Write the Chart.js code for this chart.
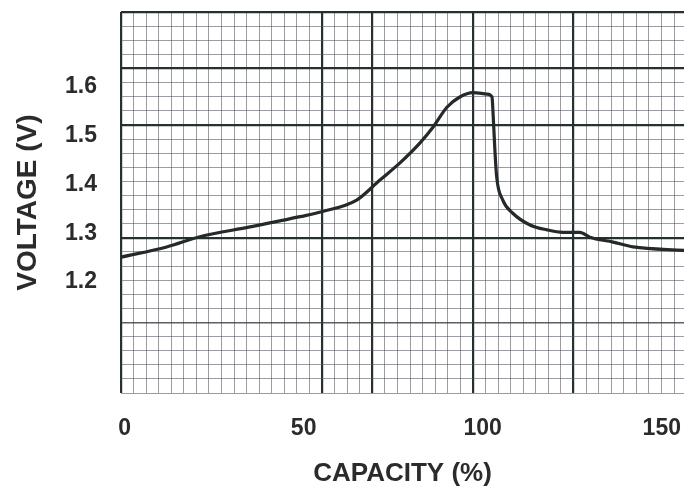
<!DOCTYPE html>
<html>
<head>
<meta charset="utf-8">
<script src="https://cdn.jsdelivr.net/npm/chart.js@4"></script>
<style>
  html, body { margin: 0; padding: 0; background: #fff; }
  #wrap { width: 684px; height: 487px; }
</style>
</head>
<body>
<div id="wrap"><canvas id="chargeChart" width="684" height="487"></canvas></div>
<script>
// readings
var capacity = [-1, 11.75, 21, 35, 49, 55, 64.8, 71.3, 76.9, 82.5, 86.1, 90, 93.6, 97.3, 101.2, 102.6, 102.8, 103.4, 103.9, 105.6, 108.4, 113.2, 117.9, 122.4, 127.1, 129.9, 136.4, 142, 156.2];
var voltage = [1.251, 1.272, 1.293, 1.313, 1.334, 1.344, 1.368, 1.409, 1.444, 1.485, 1.517, 1.558, 1.579, 1.588, 1.585, 1.579, 1.558, 1.470, 1.415, 1.368, 1.341, 1.317, 1.307, 1.302, 1.302, 1.292, 1.282, 1.272, 1.265];
var xTicks = [0, 50, 100, 150];
var yTicks = [1.2, 1.3, 1.4, 1.5, 1.6];

// graph paper cells
var paperCols = 44.79, paperRows = 27;
var heavyCols = [0, 16, 20, 28, 36];
var heavyRows = [0, 4, 8, 16];
var midRows = [22];

document.addEventListener("DOMContentLoaded", function() {
  var ink = "#2b2b2b";
  var family = "'Liberation Sans', Arial, sans-serif";
  var labelFont = { family: family, size: 23, weight: "bold" };

  var points = capacity.map(function(c, i) { return { x: c, y: voltage[i] }; });

  function range(n) {
    var out = [];
    for (var i = 0; i <= Math.floor(n); i++) out.push({ value: i });
    return out;
  }

  function paperColor(heavy, mid) {
    return function(ctx) {
      var v = ctx.tick ? ctx.tick.value : -1;
      if (heavy.indexOf(v) >= 0) return "#26302f";
      if (mid.indexOf(v) >= 0) return "rgba(50,55,60,0.8)";
      return "rgba(85,85,95,0.58)";
    };
  }
  function paperWidth(heavy, mid) {
    return function(ctx) {
      var v = ctx.tick ? ctx.tick.value : -1;
      if (heavy.indexOf(v) >= 0) return 2.2;
      if (mid.indexOf(v) >= 0) return 1.5;
      return 1;
    };
  }
  // keep the plot box where the paper is, labels may hang over
  function noPad(s) {
    s.paddingTop = 0; s.paddingBottom = 0; s.paddingLeft = 0; s.paddingRight = 0;
  }

  var ctx = document.getElementById("chargeChart").getContext("2d");
  new Chart(ctx, {
    type: "line",
    data: {
      datasets: [{
        data: points,
        xAxisID: "x",
        yAxisID: "y",
        borderColor: "#242a29",
        borderWidth: 3.2,
        pointRadius: 0,
        fill: false,
        cubicInterpolationMode: "monotone"
      }]
    },
    options: {
      responsive: false,
      animation: false,
      layout: { padding: { top: 12, left: 0, right: 0, bottom: 0 } },
      plugins: { legend: { display: false }, tooltip: { enabled: false } },
      scales: {
        gx: {
          type: "linear", position: "bottom", min: 0, max: paperCols,
          afterBuildTicks: function(s) { s.ticks = range(paperCols); },
          afterFit: noPad,
          ticks: { display: false },
          border: { display: false },
          grid: { drawTicks: false, color: paperColor(heavyCols, []), lineWidth: paperWidth(heavyCols, []) }
        },
        gy: {
          type: "linear", position: "left", reverse: true, min: 0, max: paperRows,
          afterBuildTicks: function(s) { s.ticks = range(paperRows); },
          afterFit: noPad,
          ticks: { display: false },
          border: { display: false },
          grid: { drawTicks: false, color: paperColor(heavyRows, midRows), lineWidth: paperWidth(heavyRows, midRows) }
        },
        x: {
          type: "linear", position: "bottom", min: -1, max: 156.2,
          afterBuildTicks: function(s) { s.ticks = xTicks.map(function(v) { return { value: v }; }); },
          afterFit: function(s) { s.height = 94; noPad(s); },
          grid: { display: false, drawTicks: false },
          border: { display: false },
          ticks: { color: ink, font: labelFont, padding: 22, maxRotation: 0 },
          title: { display: true, text: "CAPACITY (%)", color: ink, font: { family: family, size: 26, weight: "bold" }, padding: { top: 0, bottom: -2 } }
        },
        y: {
          type: "linear", position: "left", min: 0.973, max: 1.753,
          afterBuildTicks: function(s) { s.ticks = yTicks.map(function(v) { return { value: v }; }); },
          afterFit: function(s) { s.width = 121; noPad(s); },
          grid: { display: false, drawTicks: false },
          border: { display: false },
          ticks: { color: ink, font: labelFont, padding: 24, callback: function(v) { return v.toFixed(1); } },
          title: { display: true, text: "VOLTAGE (V)", color: ink, font: { family: family, size: 28, weight: "bold" }, padding: { top: 11, bottom: 0 } }
        }
      }
    }
  });
});
</script>
</body>
</html>
